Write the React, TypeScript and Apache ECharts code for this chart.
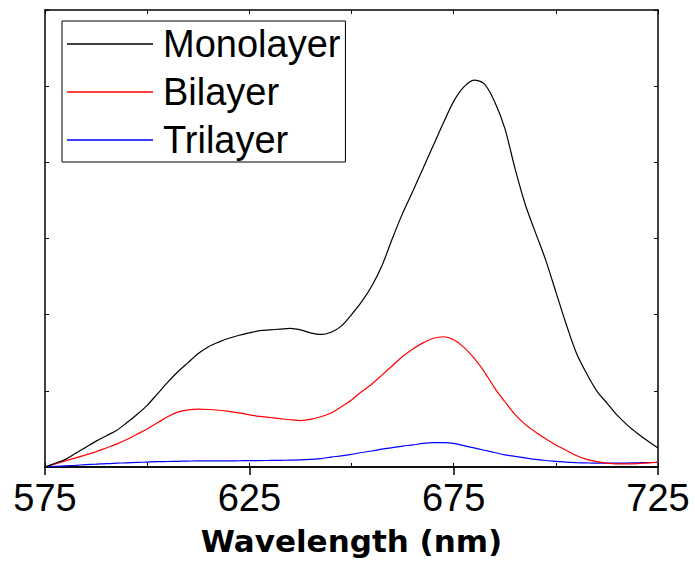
import React, { useEffect, useRef } from "react";
import * as echarts from "echarts";

const wavelengths = [
  575, 577.5, 580, 582.5, 585, 587.5, 590, 592.5, 595, 597.5,
  600, 602.5, 605, 607.5, 610, 612.5, 615, 617.5, 620, 622.5,
  625, 627.5, 630, 632.5, 635, 637.5, 640, 642.5, 645, 647.5,
  650, 652.5, 655, 657.5, 660, 662.5, 665, 667.5, 670, 672.5,
  675, 677.5, 680, 682.5, 685, 687.5, 690, 692.5, 695, 697.5,
  700, 702.5, 705, 707.5, 710, 712.5, 715, 717.5, 720, 722.5, 725,
];
const monolayer = [
  0, 0.05, 0.1, 0.18, 0.26, 0.34, 0.41, 0.48, 0.58, 0.69,
  0.81, 0.96, 1.11, 1.25, 1.37, 1.49, 1.58, 1.64, 1.69, 1.73,
  1.76, 1.79, 1.8, 1.81, 1.82, 1.8, 1.76, 1.74, 1.77, 1.85,
  2.0, 2.17, 2.38, 2.65, 3.0, 3.33, 3.62, 3.92, 4.22, 4.52,
  4.8, 4.99, 5.08, 5.03, 4.8, 4.45, 3.92, 3.45, 3.08, 2.72,
  2.3, 1.88, 1.5, 1.23, 1.0, 0.84, 0.68, 0.55, 0.44, 0.34, 0.25,
];
const bilayer = [
  0, 0.04, 0.08, 0.12, 0.16, 0.2, 0.25, 0.3, 0.36, 0.43,
  0.5, 0.58, 0.66, 0.72, 0.75, 0.76, 0.755, 0.745, 0.73, 0.71,
  0.685, 0.665, 0.65, 0.635, 0.62, 0.61, 0.625, 0.66, 0.71, 0.79,
  0.88, 0.99, 1.09, 1.21, 1.33, 1.45, 1.55, 1.63, 1.69, 1.71,
  1.67, 1.57, 1.43, 1.25, 1.04, 0.86, 0.69, 0.56, 0.46, 0.37,
  0.29, 0.22, 0.15, 0.1, 0.07, 0.05, 0.04, 0.04, 0.045, 0.055, 0.06,
];
const trilayer = [
  0, 0.008, 0.015, 0.022, 0.03, 0.037, 0.045, 0.05, 0.055, 0.06,
  0.065, 0.07, 0.072, 0.075, 0.078, 0.08, 0.08, 0.08, 0.08, 0.082,
  0.083, 0.085, 0.086, 0.088, 0.09, 0.093, 0.1, 0.11, 0.13, 0.145,
  0.165, 0.19, 0.21, 0.235, 0.255, 0.275, 0.29, 0.31, 0.32, 0.32,
  0.31, 0.28, 0.25, 0.22, 0.19, 0.16, 0.14, 0.12, 0.1, 0.085,
  0.075, 0.065, 0.058, 0.053, 0.05, 0.05, 0.05, 0.052, 0.055, 0.058, 0.06,
];
const seriesNames = ["Monolayer", "Bilayer", "Trilayer"];
const seriesColors = ["#000000", "#ff0000", "#0000ff"];
const xTitle = "Wavelength (nm)";

const FONT = "'Liberation Sans', Arial, Helvetica, sans-serif";
const TITLE_FONT = "'DejaVu Sans', 'Liberation Sans', Arial, sans-serif";

export default function App() {
  const ref = useRef<HTMLDivElement>(null);
  useEffect(() => {
    document.body.style.margin = "0";
    const chart = echarts.init(ref.current!, null, { renderer: "svg" });
    const values = [monolayer, bilayer, trilayer];
    const axisLine = { show: true, lineStyle: { color: "#000", width: 1.5 } };
    chart.setOption({
      animation: false,
      backgroundColor: "#fff",
      grid: { left: 45, right: 37, top: 10, bottom: 95, containLabel: false, outerBoundsMode: "none" },
      legend: {
        data: seriesNames,
        orient: "vertical",
        left: 62,
        top: 21,
        icon: "rect",
        itemWidth: 86,
        itemHeight: 1.5,
        itemGap: 8,
        padding: [3, 5, 2, 5],
        borderColor: "#000",
        borderWidth: 1,
        backgroundColor: "#fff",
        textStyle: { fontFamily: FONT, fontSize: 38, lineHeight: 40, color: "#000", padding: [0, 0, 0, 5] },
      },
      xAxis: [
        {
          type: "value",
          position: "bottom",
          min: 575,
          max: 725,
          interval: 50,
          axisLine,
          axisTick: { show: true, inside: false, length: 8, lineStyle: { color: "#000", width: 1.5 } },
          axisLabel: { show: true, fontFamily: FONT, fontSize: 38, color: "#000", margin: 12 },
          splitLine: { show: false },
          name: xTitle,
          nameLocation: "middle",
          nameGap: 58,
          nameTextStyle: { fontFamily: TITLE_FONT, fontSize: 31, fontWeight: "bold", color: "#000" },
        },
        {
          type: "value",
          position: "bottom",
          min: 575,
          max: 725,
          interval: 25,
          axisLine,
          axisTick: { show: true, inside: true, length: 4, lineStyle: { color: "#000", width: 1 } },
          axisLabel: { show: false },
          splitLine: { show: false },
        },
        {
          type: "value",
          position: "top",
          min: 575,
          max: 725,
          interval: 25,
          axisLine,
          axisTick: { show: true, inside: true, length: 4, lineStyle: { color: "#000", width: 1 } },
          axisLabel: { show: false },
          splitLine: { show: false },
        },
      ],
      yAxis: [
        {
          type: "value",
          position: "left",
          min: 0,
          max: 6,
          interval: 1,
          axisLine,
          axisTick: { show: true, inside: true, length: 4, lineStyle: { color: "#000", width: 1 } },
          axisLabel: { show: false },
          splitLine: { show: false },
        },
        {
          type: "value",
          position: "right",
          min: 0,
          max: 6,
          interval: 1,
          axisLine,
          axisTick: { show: true, inside: true, length: 4, lineStyle: { color: "#000", width: 1 } },
          axisLabel: { show: false },
          splitLine: { show: false },
        },
      ],
      series: seriesNames.map((name, i) => ({
        name,
        type: "line",
        xAxisIndex: 0,
        yAxisIndex: 0,
        data: wavelengths.map((w, j) => [w, values[i][j]]),
        smooth: 0.3,
        showSymbol: false,
        color: seriesColors[i],
        lineStyle: { color: seriesColors[i], width: 1.2 },
        z: 3 - i,
      })),
    });
    return () => chart.dispose();
  }, []);
  return <div ref={ref} style={{ width: 695, height: 562 }} />;
}
